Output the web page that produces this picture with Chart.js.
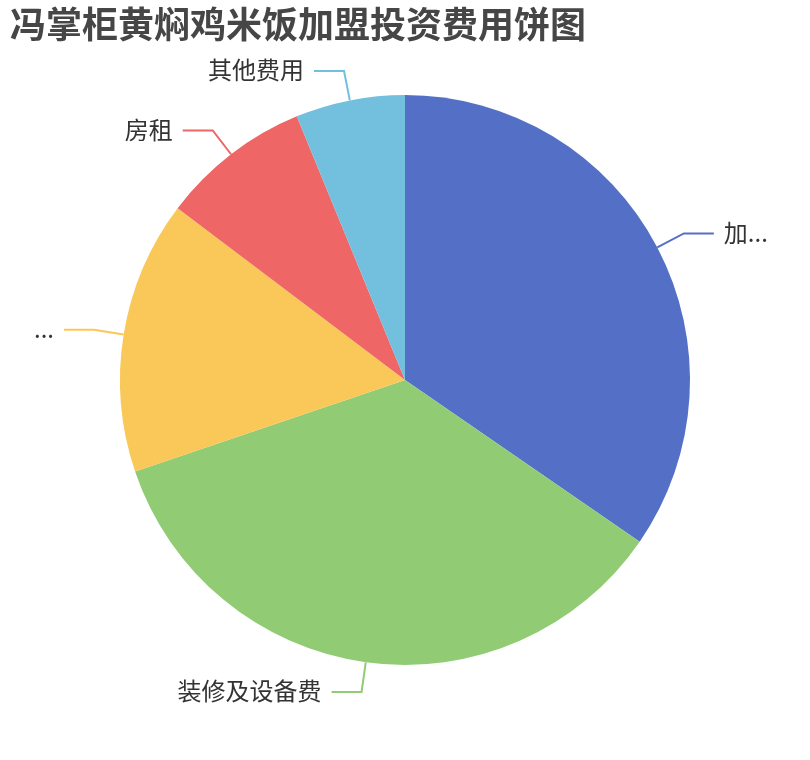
<!DOCTYPE html>
<html>
<head>
<meta charset="utf-8">
<script src="https://cdn.jsdelivr.net/npm/chart.js@4"></script>
<style>
  html, body { margin: 0; padding: 0; background: #ffffff; }
  #wrap { width: 810px; height: 760px; position: relative; }
</style>
</head>
<body>
<div id="wrap"><canvas id="c" width="810" height="760"></canvas></div>
<script>
// ---- data ----
const chartTitle = '冯掌柜黄焖鸡米饭加盟投资费用饼图';
const categories = ['加盟费', '装修及设备费', '首批进货费', '房租', '其他费用'];
const values = [34.6, 35.2, 15.5, 8.5, 6.2];
const colors = ['#5470c6', '#91cc75', '#fac858', '#ee6666', '#73c0de'];

const FONT = '"Noto Sans CJK SC", "Noto Sans", sans-serif';

function truncate(ctx, text, maxW) {
  if (ctx.measureText(text).width <= maxW) return text;
  for (let n = text.length - 1; n >= 1; n--) {
    const t = text.slice(0, n) + '...';
    if (ctx.measureText(t).width <= maxW) return t;
  }
  return '...';
}

const labelPlugin = {
  id: 'pieLabels',
  afterDatasetsDraw(chart) {
    const ctx = chart.ctx;
    const meta = chart.getDatasetMeta(0);
    const W = chart.width;
    const len1 = 30, len2 = 30, gap = 10, edge = 30;
    ctx.save();
    ctx.font = '24px ' + FONT;
    meta.data.forEach((arc, i) => {
      const p = arc.getProps(['x', 'y', 'startAngle', 'endAngle', 'outerRadius'], true);
      const mid = (p.startAngle + p.endAngle) / 2;
      const c = Math.cos(mid), s = Math.sin(mid);
      const x1 = p.x + p.outerRadius * c, y1 = p.y + p.outerRadius * s;
      const x2 = p.x + (p.outerRadius + len1) * c, y2 = p.y + (p.outerRadius + len1) * s;
      const right = c >= 0;
      const x3 = right ? x2 + len2 : x2 - len2;
      ctx.strokeStyle = colors[i];
      ctx.lineWidth = 2;
      ctx.beginPath();
      ctx.moveTo(x1, y1);
      ctx.lineTo(x2, y2);
      ctx.lineTo(x3, y2);
      ctx.stroke();
      const tx = right ? x3 + gap : x3 - gap;
      const avail = right ? (W - edge - tx) : (tx - edge);
      const txt = truncate(ctx, chart.data.labels[i], avail);
      ctx.fillStyle = '#333333';
      ctx.textAlign = right ? 'left' : 'right';
      ctx.textBaseline = 'middle';
      ctx.fillText(txt, tx, y2 - 1);
    });
    ctx.restore();
  },
  afterDraw(chart) {
    const ctx = chart.ctx;
    ctx.save();
    ctx.font = 'bold 36px ' + FONT;
    ctx.fillStyle = '#464646';
    ctx.textAlign = 'left';
    ctx.textBaseline = 'middle';
    ctx.fillText(chartTitle, 10, 24);
    ctx.restore();
  }
};

new Chart(document.getElementById('c'), {
  type: 'pie',
  data: {
    labels: categories,
    datasets: [{
      data: values,
      backgroundColor: colors,
      borderWidth: 0,
      hoverOffset: 0,
      offset: 0
    }]
  },
  options: {
    responsive: false,
    animation: false,
    devicePixelRatio: 1,
    radius: 285,
    layout: { padding: { left: 120, right: 120, top: 95, bottom: 95 } },
    plugins: {
      legend: { display: false },
      title: { display: false },
      tooltip: { enabled: false }
    }
  },
  plugins: [labelPlugin]
});
</script>
</body>
</html>
